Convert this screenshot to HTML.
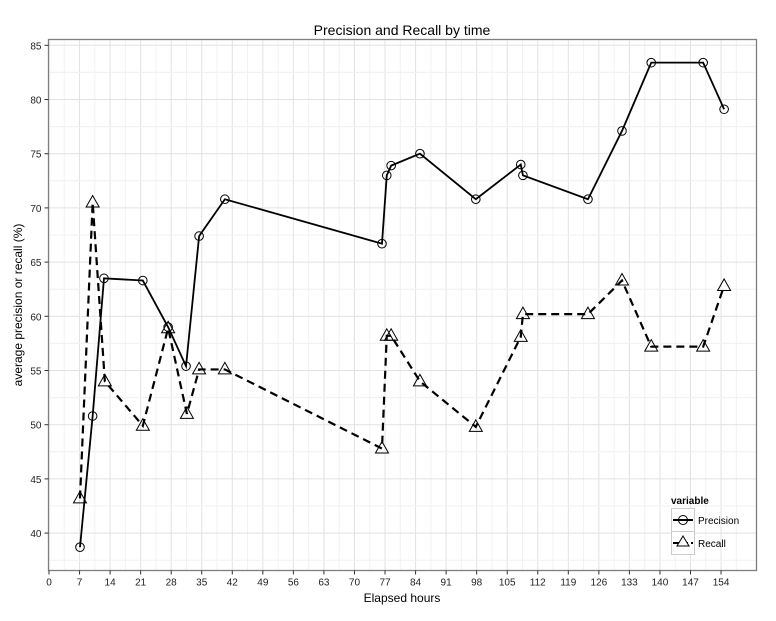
<!DOCTYPE html>
<html><head><meta charset="utf-8"><style>
body{margin:0;background:#fff;font-family:"Liberation Sans",sans-serif}
svg text{font-family:"Liberation Sans",sans-serif}
</style></head><body>
<svg id="chart" width="776" height="616" xmlns="http://www.w3.org/2000/svg">
<g id="grid"></g>
<g id="series"></g>
<rect x="48.5" y="39.5" width="708" height="531" fill="none" stroke="#7f7f7f" stroke-width="1.3"/>
<g id="axes"></g>
<text x="402" y="35" text-anchor="middle" font-size="14">Precision and Recall by time</text>
<text x="402" y="602" text-anchor="middle" font-size="12">Elapsed hours</text>
<text transform="translate(22,305) rotate(-90)" text-anchor="middle" font-size="12">average precision or recall (%)</text>
<g>
<text x="671" y="504" font-size="10" font-weight="bold">variable</text>
<rect x="671.5" y="508.5" width="23" height="23" fill="#fff" stroke="#ccc"/>
<rect x="671.5" y="531.5" width="23" height="23" fill="#fff" stroke="#ccc"/>
<g>
<line x1="673" y1="520" x2="693" y2="520" stroke="#000" stroke-width="2"/>
<circle cx="683" cy="520" r="4.5" fill="none" stroke="#000"/>
<text x="698" y="524" font-size="10">Precision</text></g>
<g>
<line x1="673" y1="543" x2="693" y2="543" stroke="#000" stroke-width="2" stroke-dasharray="6,3"/>
<path d="M683,536 L689,546 L677,546 Z" fill="#fff" stroke="#000"/>
<text x="698" y="547" font-size="10">Recall</text></g>
</g>
</svg>
<script>
const hours=[7.1,10,12.6,21.5,27.3,31.4,34.4,40.3,76.3,77.4,78.4,85,97.8,108.1,108.6,123.5,131.3,138,149.9,154.7];
const precision=[38.7,50.8,63.5,63.3,59.0,55.4,67.4,70.8,66.7,73.0,73.9,75.0,70.8,74.0,73.0,70.8,77.1,83.4,83.4,79.1];
const recallHours=[7.1,10,12.8,21.5,27.3,31.6,34.4,40.3,76.3,77.4,78.4,85,97.8,108.1,108.6,123.5,131.3,138,149.9,154.7];
const recall=[43.2,70.5,54.0,49.9,58.9,51.0,55.1,55.1,47.8,58.2,58.2,54.0,49.8,58.1,60.2,60.2,63.3,57.2,57.2,62.8];
const xTicks=[0,7,14,21,28,35,42,49,56,63,70,77,84,91,98,105,112,119,126,133,140,147,154];
const yTicks=[40,45,50,55,60,65,70,75,80,85];
const NS="http://www.w3.org/2000/svg";
const L=48.5,R=756.5,T=39.5,B=570.5;
const xs=v=>49+v*4.364;
const ys=v=>45.3+(85-v)*10.84;
function mk(tag,attrs,parent){const e=document.createElementNS(NS,tag);for(const k in attrs)e.setAttribute(k,attrs[k]);parent.appendChild(e);return e;}
const grid=document.getElementById('grid'),axes=document.getElementById('axes'),ser=document.getElementById('series');
for(let i=0;i<xTicks.length;i++){const x=xs(xTicks[i]);
 const m=xs(xTicks[i]+3.5); if(m<R){const g=mk('line',{x1:m,x2:m,y1:T,y2:B,stroke:'#f2f2f2','stroke-width':1},grid);}
 const g=mk('line',{x1:x,x2:x,y1:T,y2:B,stroke:'#e2e2e2','stroke-width':1},grid);
 const t=mk('line',{x1:x,x2:x,y1:B,y2:B+4,stroke:'#333'},axes);
 const l=mk('text',{x:x,y:B+15,'text-anchor':'middle','font-size':10,fill:'#222'},axes);l.textContent=xTicks[i];}
for(let i=0;i<yTicks.length;i++){const y=ys(yTicks[i]);
 [yTicks[i]-2.5,yTicks[i]+2.5].forEach(v=>{const yy=ys(v);if(yy>T&&yy<B){const g=mk('line',{x1:L,x2:R,y1:yy,y2:yy,stroke:'#f2f2f2'},grid);}});
 const g=mk('line',{x1:L,x2:R,y1:y,y2:y,stroke:'#e2e2e2'},grid);
 const t=mk('line',{x1:L-4,x2:L,y1:y,y2:y,stroke:'#333'},axes);
 const l=mk('text',{x:L-7,y:y+4,'text-anchor':'end','font-size':10,fill:'#222'},axes);l.textContent=yTicks[i];}
const rp=mk('polyline',{points:recallHours.map((h,i)=>xs(h)+','+ys(recall[i])).join(' '),fill:'none',stroke:'#000','stroke-width':2.2,'stroke-dasharray':'8,5'},ser);


const pp=mk('polyline',{points:hours.map((h,i)=>xs(h)+','+ys(precision[i])).join(' '),fill:'none',stroke:'#000','stroke-width':1.8},ser);


hours.forEach((h,i)=>{const c=mk('circle',{cx:xs(h),cy:ys(precision[i]),r:4.3,fill:'none',stroke:'#000'},ser);

});
recallHours.forEach((h,i)=>{const x=xs(h),y=ys(recall[i]);const p=mk('path',{d:`M${x},${y-7} L${x+6.5},${y+4.5} L${x-6.5},${y+4.5} Z`,fill:'none',stroke:'#000'},ser);

});
</script>
</body></html>
